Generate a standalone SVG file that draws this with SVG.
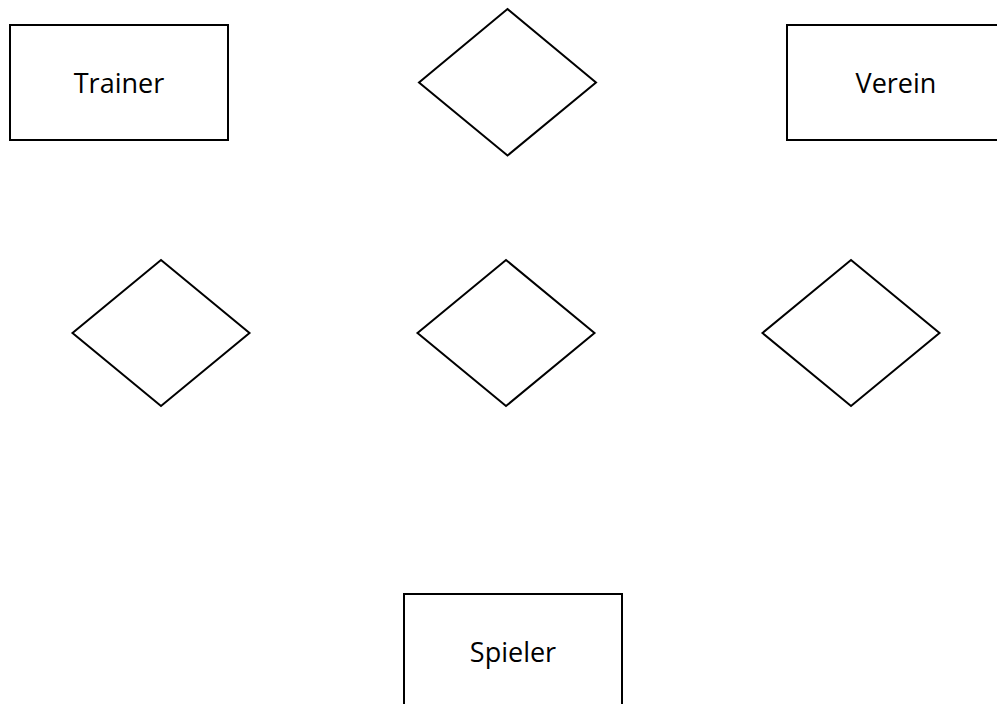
<svg xmlns="http://www.w3.org/2000/svg" width="997" height="704" viewBox="0 0 997 704">
<style>
.box{fill:#fff;stroke:#000;stroke-width:2}
.dia{fill:#fff;stroke:#000;stroke-width:2;stroke-linejoin:miter}
.lbl{font-family:"Open Sans","Noto Sans","Liberation Sans",sans-serif;font-size:27px;fill:#000;text-anchor:middle}
</style>
<rect width="997" height="704" fill="#fff"/>
<g id="trainer">
<rect class="box" x="10" y="25" width="218" height="115"/>
<text class="lbl" x="119" y="92.5">Trainer</text>
</g>
<g id="verein">
<rect class="box" x="787" y="25" width="218" height="115"/>
<text class="lbl" x="896" y="92.5">Verein</text>
</g>
<g id="spieler">
<rect class="box" x="404" y="594" width="218" height="115"/>
<text class="lbl" x="513" y="661.5">Spieler</text>
</g>
<g id="rel-top">
<polygon class="dia" points="507.5,9 596,82.5 507.5,155.5 419,82.5"/>
</g>
<g id="rel-left">
<polygon class="dia" points="161,260 249.5,333 161,406 72.5,333"/>
</g>
<g id="rel-middle">
<polygon class="dia" points="506,260 594.5,333 506,406 417.5,333"/>
</g>
<g id="rel-right">
<polygon class="dia" points="851,260 939.5,333 851,406 762.5,333"/>
</g>
<g id="connectors"></g>
</svg>
